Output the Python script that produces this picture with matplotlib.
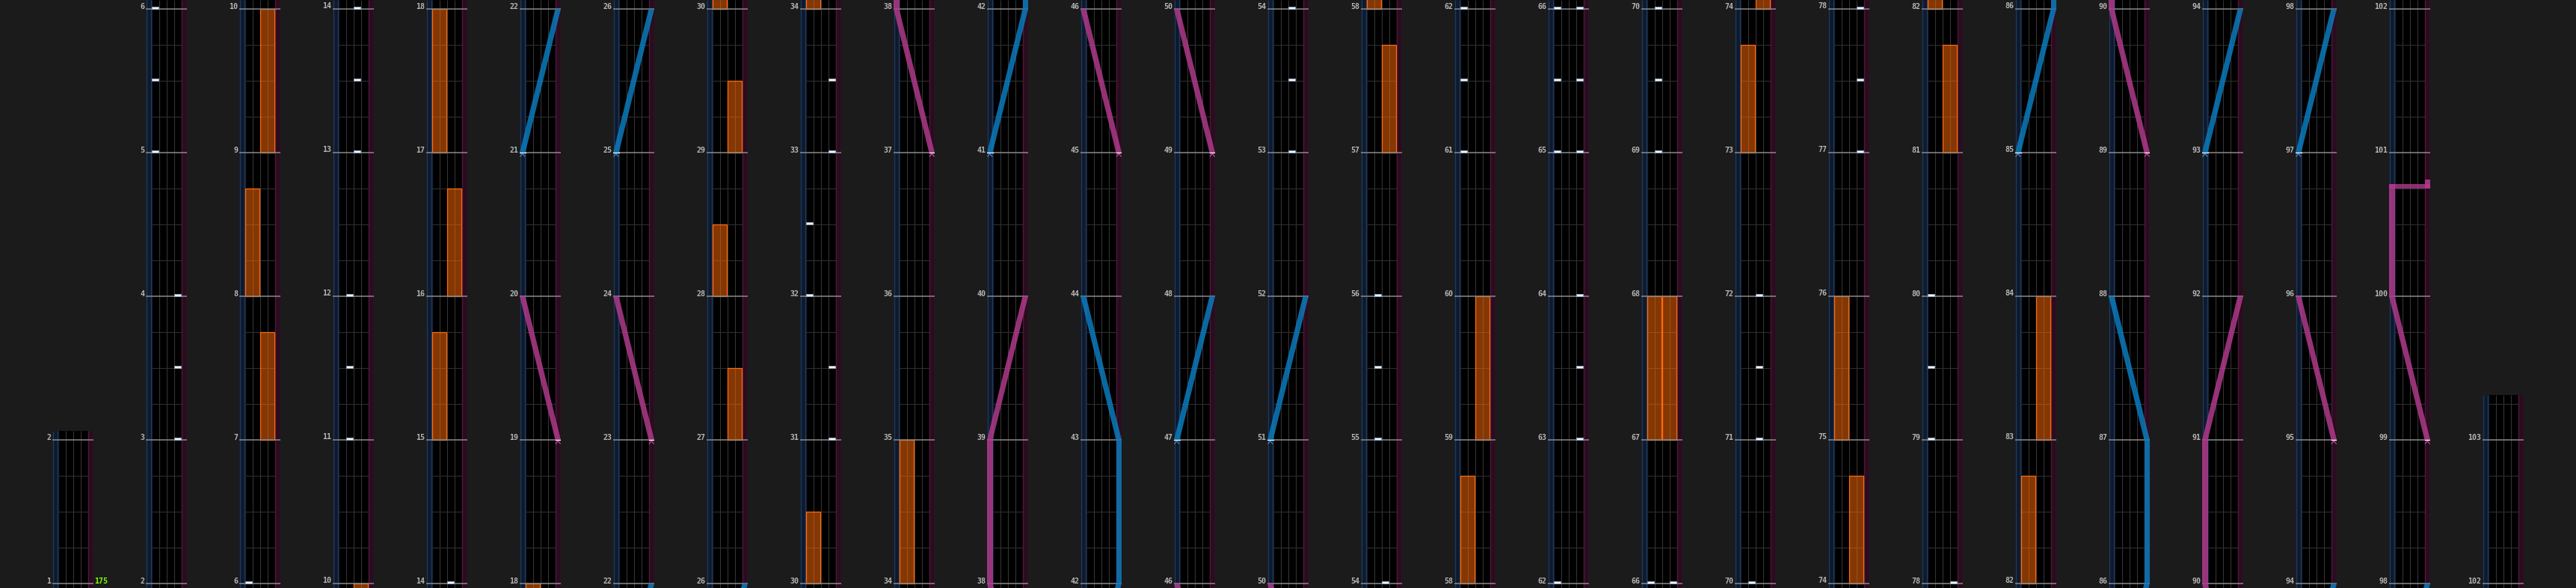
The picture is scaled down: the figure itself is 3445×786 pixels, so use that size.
import matplotlib
matplotlib.use("Agg")
import matplotlib.pyplot as plt

W, H, DPI = 3445, 786, 100
PX_PER_MEASURE = 192
MEASURES_PER_COLUMN = 4

first_measure = 1
last_measure = 103.25
bpm_text = "175"

# BT chips, measure positions per lane
bt_a = [5, 5.5, 6, 32, 32.5, 61, 61.5, 62, 65, 65.5, 66, 79, 79.5, 80]
bt_b = [11, 11.5, 12, 55, 55.5, 56, 69, 69.5, 70]
bt_c = [13, 13.5, 14, 53, 53.5, 54, 71, 71.5, 72]
bt_d = [3, 3.5, 4, 31, 31.5, 33, 33.5, 63, 63.5, 64, 65, 65.5, 66, 77, 77.5, 78]

# FX holds (start, end) in measures
fx_l_start = [8, 15, 17, 28, 30, 34, 58, 67, 73, 75, 82]
fx_l_end = [8.75, 15.75, 18, 28.5, 30.5, 35, 58.75, 68, 73.75, 76, 82.75]
fx_r_start = [7, 9, 16, 27, 29, 57, 59, 67, 74, 81, 83]
fx_r_end = [7.75, 10, 16.75, 27.5, 29.5, 57.75, 60, 68, 74.75, 81.75, 84]

# lasers: list of (measure, position 0=left .. 1=right)
laser_left = [
    [(21, 0), (22, 1)],
    [(25, 0), (26, 1)],
    [(41, 0), (42, 1), (43, 1), (44, 0)],
    [(47, 0), (48, 1)],
    [(51, 0), (52, 1)],
    [(85, 0), (86, 1), (87, 1), (88, 0)],
    [(93, 0), (94, 1)],
    [(97, 0), (98, 1)],
]
laser_right = [
    [(19, 1), (20, 0)],
    [(23, 1), (24, 0)],
    [(37, 1), (38, 0), (39, 0), (40, 1)],
    [(45, 1), (46, 0)],
    [(49, 1), (50, 0)],
    [(89, 1), (90, 0), (91, 0), (92, 1)],
    [(95, 1), (96, 0)],
    [(99, 1), (100, 0), (100.75, 0), (100.75, 1)],
]

BG = "#1b1b1b"
LANE_W = 0.75
FULL_W = 5.5
PX = 1 / PX_PER_MEASURE

col_starts = [first_measure] + list(range(2, int(last_measure) + 1, MEASURES_PER_COLUMN))
col_ends = [2] + [min(s + MEASURES_PER_COLUMN, last_measure) for s in col_starts[1:]]

fig = plt.figure(figsize=(W / DPI, H / DPI), dpi=DPI, facecolor=BG)


def draw_laser(ax, pts, color, light):
    span = FULL_W - LANE_W
    for (t0, p0), (t1, p1) in zip(pts[:-1], pts[1:]):
        x0, x1 = p0 * span, p1 * span
        if t1 == t0:
            # slam
            lo, hi = min(x0, x1), max(x0, x1) + LANE_W
            ax.fill([lo, hi, hi, lo], [t0, t0, t0 + 6 * PX, t0 + 6 * PX],
                    color=color, alpha=0.8, lw=0, zorder=4)
            continue
        top = t1 + 6 * PX if (t1, p1) != pts[-1] and pts[pts.index((t1, p1)) + 1][0] == t1 else t1
        ax.fill([x0, x0 + LANE_W, x1 + LANE_W, x1], [t0, t0, top, top],
                color=color, alpha=0.85, lw=0, zorder=4)
    t_end, p_end = pts[-1]
    if pts[-2][0] == t_end:
        xe = p_end * span
        ax.fill([xe, xe + LANE_W, xe + LANE_W, xe],
                [t_end, t_end, t_end + 12 * PX, t_end + 12 * PX],
                color=color, alpha=0.9, lw=0, zorder=4)
    # start marker
    ts, ps = pts[0]
    xs = ps * span
    ax.plot([xs, xs + LANE_W], [ts, ts], color="white", lw=0.9, zorder=5)
    xc = xs + LANE_W / 2
    ax.plot([xc - 0.3, xc, xc + 0.3], [ts - 5 * PX, ts - 1.5 * PX, ts - 5 * PX],
            color=light, lw=0.8, alpha=0.8, zorder=5)


for k, (s, e) in enumerate(zip(col_starts, col_ends)):
    y0, y1 = s - 6 * PX, e + 12 * PX
    height_px = (y1 - y0) * PX_PER_MEASURE
    ax = fig.add_axes([(70 + 125 * k) / W, 0, 55 / W, height_px / H])
    ax.set_xlim(0, FULL_W)
    ax.set_ylim(y0, y1)
    ax.set_axis_off()

    # lanes
    ax.axvspan(0, FULL_W, color="black", zorder=0)
    ax.axvspan(0, LANE_W, color="#0f192d", zorder=0.5)
    ax.axvspan(FULL_W - LANE_W, FULL_W, color="#2a0c1f", zorder=0.5)
    ax.vlines([0.05, LANE_W - 0.05], y0, y1, color="#1f3a56", lw=1.0, zorder=1)
    ax.vlines([FULL_W - LANE_W + 0.05, FULL_W - 0.05], y0, y1, color="#4d1838", lw=1.0, zorder=1)
    ax.vlines([1.75, 2.75, 3.75], y0, y1, color="#343434", lw=0.8, zorder=1)

    # beat and measure lines
    beats = [b / 4 for b in range(int(y0 * 4), int(y1 * 4) + 1) if b % 4 and y0 < b / 4 < y1]
    ax.hlines(beats, LANE_W, FULL_W - LANE_W, color="#2e2e2e", lw=0.8, zorder=1)
    measures = [m for m in range(int(s), int(e) + 1)]
    ax.hlines(measures, 0, FULL_W, color="#8a8a8a", lw=1.1, zorder=3)
    for m in measures:
        ax.text(-0.17, m + 0.5 * PX, str(m), ha="right", va="baseline",
                family="DejaVu Sans Mono", fontweight="bold", fontsize=7.2,
                color="#b5b5b5")

    # FX holds
    ax.bar([1.75] * len(fx_l_start), [b - a for a, b in zip(fx_l_start, fx_l_end)],
           bottom=fx_l_start, width=1.84, color=(1, 0.42, 0.02, 0.52),
           edgecolor="#ff6a10", lw=0.9, zorder=2)
    ax.bar([3.75] * len(fx_r_start), [b - a for a, b in zip(fx_r_start, fx_r_end)],
           bottom=fx_r_start, width=1.84, color=(1, 0.42, 0.02, 0.52),
           edgecolor="#ff6a10", lw=0.9, zorder=2)

    # BT chips
    for lane, times in enumerate([bt_a, bt_b, bt_c, bt_d]):
        ax.bar([LANE_W + lane + 0.5] * len(times), [3 * PX] * len(times),
               bottom=times, width=0.84, color="#eef3f8", edgecolor="#8fa6bd",
               lw=0.7, zorder=6)

    # lasers
    for pts in laser_left:
        draw_laser(ax, pts, "#0c7bbd", "#5fb0e0")
    for pts in laser_right:
        draw_laser(ax, pts, "#b03a8b", "#e070c0")

    if k == 0:
        ax.text(FULL_W + 0.1, first_measure + 0.5 * PX, bpm_text, ha="left", va="baseline",
                family="DejaVu Sans Mono", fontweight="bold", fontsize=7.2,
                color="#7fff00")

fig.savefig("out.png", dpi=DPI, facecolor=BG)
